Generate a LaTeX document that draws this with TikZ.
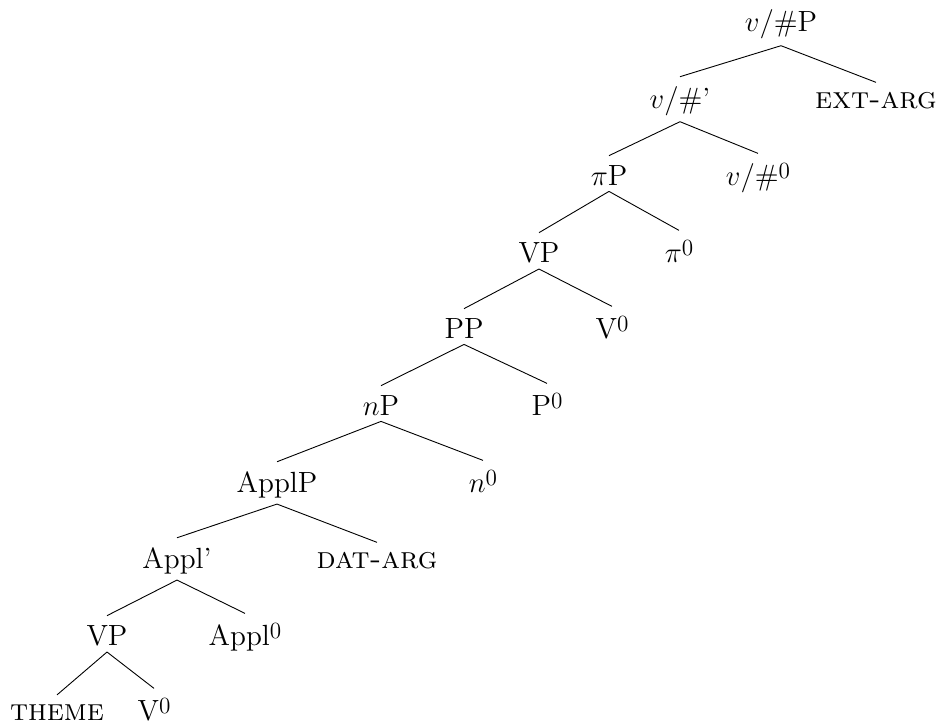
\documentclass[tikz,border=0pt]{standalone}
\newcommand\zsup{\raisebox{3.4pt}{\fontsize{11.6}{12}\selectfont 0}}
\newcommand\smc[1]{{\fontsize{15.3}{17}\selectfont\textsc{#1}}}
\begin{document}
\begin{tikzpicture}[x=0.5pt,y=-0.5pt,
  lbl/.style={anchor=base,inner xsep=0pt,inner ysep=3pt,font=\fontsize{14.6}{17}\selectfont},
  edge/.style={line width=0.45pt}]
\useasboundingbox (0,0) rectangle (937,728);
\node[lbl] (a) at (781,32) {$v$/\#P};
\node[lbl] (b) at (680,108) {$v$/\#’};
\node[lbl] (c) at (876,108) {\smc{ext-arg}};
\node[lbl] (d) at (609,185) {$\pi$P};
\node[lbl] (e) at (758,185) {$v$/\#\zsup};
\node[lbl] (f) at (539,262) {VP};
\node[lbl] (g) at (679,262) {$\pi$\zsup};
\node[lbl] (h) at (464,338) {PP};
\node[lbl] (i) at (612,338) {V\zsup};
\node[lbl] (j) at (381,415) {$n$P};
\node[lbl] (k) at (547,415) {P\zsup};
\node[lbl] (l) at (277,492) {ApplP};
\node[lbl] (m) at (483,492) {$n$\zsup};
\node[lbl] (n) at (177,568) {Appl’};
\node[lbl] (o) at (377,568) {\smc{dat-arg}};
\node[lbl] (p) at (107,645) {VP};
\node[lbl] (q) at (245,645) {Appl\zsup};
\node[lbl] (r) at (57,720) {\smc{theme}};
\node[lbl] (s) at (154,720) {V\zsup};
\foreach \u/\v in {a/b,a/c,b/d,b/e,d/f,d/g,f/h,f/i,h/j,h/k,j/l,j/m,l/n,l/o,n/p,n/q,p/r,p/s}
  \draw[edge] (\u.south) -- ([yshift=1.5pt]\v.north);
\end{tikzpicture}
\end{document}
